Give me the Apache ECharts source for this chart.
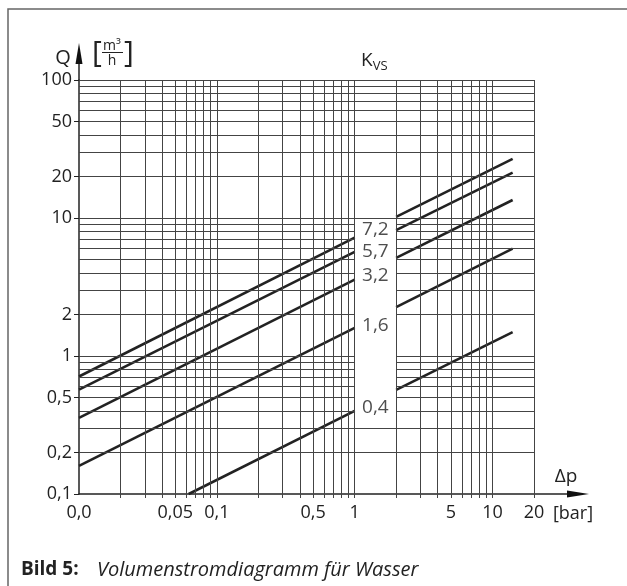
<!DOCTYPE html>
<html>
<head>
<meta charset="utf-8">
<script src="https://cdn.jsdelivr.net/npm/echarts@6/dist/echarts.min.js"></script>
<style>html,body{margin:0;padding:0;background:#fff}#c{width:627px;height:586px}</style>
</head>
<body>
<div id="c"></div>
<script>
// ---- data ----
const xGridValues = [0.02,0.03,0.04,0.05,0.06,0.07,0.08,0.09,0.1,0.2,0.3,0.4,0.5,0.6,0.7,0.8,0.9,1,2,3,4,5,6,7,8,9,10,20];
const yGridValues = [0.2,0.3,0.4,0.5,0.6,0.7,0.8,0.9,1,2,3,4,5,6,7,8,9,10,20,30,40,50,60,70,80,90,100];
const xTickValues = [0.01,0.05,0.1,0.5,1,5,10,20];
const xTickLabels = ['0,0','0,05','0,1','0,5','1','5','10','20'];
const yTickValues = [0.1,0.2,0.5,1,2,10,20,50,100];
const yTickLabels = ['0,1','0,2','0,5','1','2','10','20','50','100'];
const kvsNames = ['7,2','5,7','3,2','1,6','0,4'];
const kvsLeft = [
  [[0.01,0.71],[1,7.2]],
  [[0.01,0.57],[1,5.68]],
  [[0.01,0.356],[1,3.58]],
  [[0.01,0.16],[1,1.6]],
  [[0.0625,0.1],[1,0.4]]
];
const kvsRight = [
  [[2,10.2],[14,26.8]],
  [[2,8.17],[14,21.3]],
  [[2,5.14],[14,13.5]],
  [[2,2.26],[14,6.0]],
  [[2,0.569],[14,1.49]]
];
// label anchor (layout) in data space
const labelAnchorX = 1.414;
const labelAnchorQ = [8.2,5.68,3.8,1.67,0.424];
// gap region (labels box): horizontal lines strictly inside (gapQLow, gapQHigh) are interrupted between gapXLow and gapXHigh
const gapXLow = 1, gapXHigh = 2, gapQLow = 0.3, gapQHigh = 10;

const FONT = 'Open Sans';
const TXT = '#222';

function lookup(vals, labs, v){
  let best = 0, bd = Infinity;
  vals.forEach((x,i)=>{const d=Math.abs(Math.log10(x)-Math.log10(v)); if(d<bd){bd=d;best=i;}});
  return bd < 0.01 ? labs[best] : '';
}

const gridLines = [];
xGridValues.forEach(x => gridLines.push([{coord:[x,0.1]},{coord:[x,100]}]));
yGridValues.forEach(y => {
  if (y > gapQLow && y < gapQHigh) {
    gridLines.push([{coord:[0.01,y]},{coord:[gapXLow,y]}]);
    gridLines.push([{coord:[gapXHigh,y]},{coord:[20,y]}]);
  } else {
    gridLines.push([{coord:[0.01,y]},{coord:[20,y]}]);
  }
});

const series = [{
  type:'line', data:[], silent:true, z:1,
  markLine:{
    silent:true, symbol:['none','none'], animation:false,
    label:{show:false},
    lineStyle:{color:'#444', width:1, type:'solid'},
    emphasis:{disabled:true},
    data: gridLines
  }
}];
kvsLeft.concat(kvsRight).forEach(seg => series.push({
  type:'line', data:seg, symbol:'none', z:3, silent:true,
  lineStyle:{color:'#222', width:2.6}
}));
series.push({
  type:'scatter', z:4, silent:true, symbolSize:0,
  data: labelAnchorQ.map((q,i)=>({value:[labelAnchorX,q], name:kvsNames[i]})),
  label:{show:true, position:'inside', formatter:p=>p.name, fontFamily:FONT, fontSize:19, color:TXT}
});

const chart = echarts.init(document.getElementById('c'), null, {renderer:'canvas'});
chart.setOption({
  animation:false,
  backgroundColor:'#fff',
  grid:{left:79, right:93, top:80, bottom:92},
  xAxis:{
    type:'log', logBase:10, min:0.01, max:20,
    axisLine:{show:true, lineStyle:{color:'#222', width:1.5}},
    axisTick:{show:true, inside:false, length:4, customValues:xGridValues, lineStyle:{color:'#444', width:1}},
    axisLabel:{show:true, customValues:xTickValues, margin:10, fontFamily:FONT, fontSize:18, color:TXT,
      formatter:v=>lookup(xTickValues,xTickLabels,v)},
    splitLine:{show:false}, minorTick:{show:false}
  },
  yAxis:{
    type:'log', logBase:10, min:0.1, max:100,
    axisLine:{show:true, lineStyle:{color:'#222', width:1.5}},
    axisTick:{show:true, inside:false, length:5, customValues:yTickValues, lineStyle:{color:'#222', width:1}},
    axisLabel:{show:true, customValues:yTickValues, margin:7, fontFamily:FONT, fontSize:18, color:TXT,
      formatter:v=>lookup(yTickValues,yTickLabels,v)},
    splitLine:{show:false}, minorTick:{show:false}
  },
  series: series,
  graphic:[
    {type:'polyline', shape:{points:[[8,586],[8,9],[627,9]]}, style:{stroke:'#666', lineWidth:1.5, fill:null}},
    // y-axis arrow
    {type:'line', shape:{x1:79,y1:80,x2:79,y2:58}, style:{stroke:'#222', lineWidth:1.5}},
    {type:'polygon', shape:{points:[[79,43],[75.5,64],[82.5,64]]}, style:{fill:'#111'}},
    // x-axis arrow
    {type:'line', shape:{x1:534,y1:494,x2:572,y2:494}, style:{stroke:'#222', lineWidth:1.5}},
    {type:'polygon', shape:{points:[[589,494],[567,490.5],[567,497.5]]}, style:{fill:'#111'}},
    // Q [m3/h]
    {type:'text', x:63, y:58, style:{text:'Q', font:'20px '+FONT, fill:TXT, align:'center', verticalAlign:'middle'}},
    {type:'text', x:97, y:53, style:{text:'[', font:'30px '+FONT, fill:TXT, align:'center', verticalAlign:'middle'}},
    {type:'text', x:129, y:53, style:{text:']', font:'30px '+FONT, fill:TXT, align:'center', verticalAlign:'middle'}},
    {type:'text', x:112, y:46, style:{text:'m³', font:'14px '+FONT, fill:TXT, align:'center', verticalAlign:'middle'}},
    {type:'line', shape:{x1:102,y1:52.5,x2:123,y2:52.5}, style:{stroke:'#222', lineWidth:1}},
    {type:'text', x:112, y:61, style:{text:'h', font:'14px '+FONT, fill:TXT, align:'center', verticalAlign:'middle'}},
    // Kvs
    {type:'text', x:361, y:51, style:{
      text:'{k|K}{s|VS}', fill:TXT, verticalAlign:'top',
      rich:{k:{fontFamily:FONT, fontSize:19, color:TXT, verticalAlign:'top'}, s:{fontFamily:FONT, fontSize:13, color:TXT, padding:[9,0,0,0], verticalAlign:'top'}}
    }},
    // delta p
    {type:'text', x:566, y:477, style:{text:'Δp', font:'19px '+FONT, fill:TXT, align:'center', verticalAlign:'middle'}},
    {type:'text', x:573, y:514, style:{text:'[bar]', font:'18px '+FONT, fill:TXT, align:'center', verticalAlign:'middle'}},
    // caption
    {type:'text', x:21, y:570, style:{text:'Bild 5:', font:'bold 19px '+FONT, fill:TXT, verticalAlign:'middle'}},
    {type:'text', x:97, y:570, style:{text:'Volumenstromdiagramm für Wasser', font:'italic 20px '+FONT, fill:TXT, verticalAlign:'middle'}}
  ]
});
</script>
</body>
</html>
